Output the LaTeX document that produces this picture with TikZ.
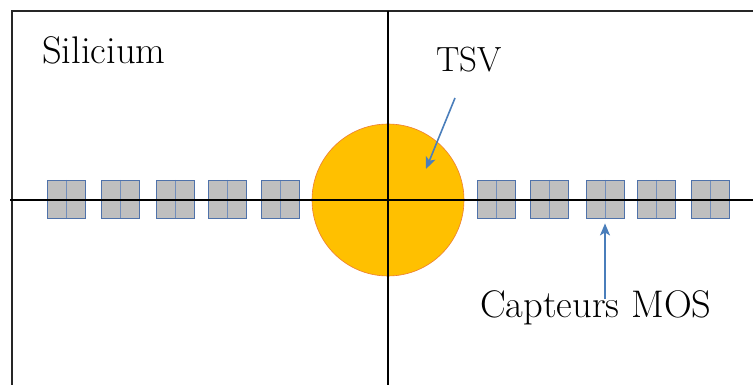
\documentclass[tikz,border=0pt]{standalone}
\usepackage{tikz}
\usetikzlibrary{positioning, arrows.meta}
\definecolor{tsvfill}{HTML}{FFC000}
\definecolor{tsvedge}{HTML}{ED7D31}
\definecolor{mosfill}{HTML}{BFBFBF}
\definecolor{mosedge}{HTML}{4F72AA}
\definecolor{arrowblue}{HTML}{4A7EBB}

\begin{document}
\begin{tikzpicture}[
    x=1pt, y=-1pt,
    frame/.style={line width=1.4pt, black!85},
    axis/.style={line width=1.2pt, black},
    sensor/.style={draw=mosedge, fill=mosfill, line width=0.9pt, minimum width=38pt, minimum height=38pt, inner sep=0pt,
        path picture={\draw[mosedge!80, line width=0.9pt] (path picture bounding box.north) -- (path picture bounding box.south);}},
    via/.style={circle, draw=tsvedge, fill=tsvfill, line width=0.6pt, minimum size=152pt, inner sep=0pt},
    label/.style={font=\fontsize{38.5}{46}\selectfont, inner sep=0pt},
    pointer/.style={draw=arrowblue, line width=1.6pt, -{Stealth[length=12pt, width=10pt, inset=3pt]}},
]
\useasboundingbox (0,0) rectangle (753,385);

% frame of the silicon die
\draw[frame] (12,385) -- (12,11) -- (753,11);

% TSV
\node[via] (tsv) at (388,200) {};

% MOS sensors on both sides of the TSV
\foreach \i/\x in {1/66, 2/120, 3/175, 4/227, 5/280, 6/496, 7/549, 8/605, 9/656, 10/710}
    \node[sensor] (m\i) at (\x,199) {};

% axes through the centre
\draw[axis] (388,11) -- (388,385);
\draw[axis] (10,200) -- (753,200);

% labels
\node[label, anchor=base west] (si) at (42,64) {Silicium};
\node[label, font=\fontsize{35}{42}\selectfont, anchor=base] (tsvlabel) at (469,72) {TSV};
\node[label, anchor=base west] (mos) at (480,317) {Capteurs MOS};

\coordinate (tsvtail) at (455,98);
\coordinate (tsvtip) at (426,169);
\draw[pointer] (tsvtail) -- (tsvtip);
\draw[pointer] (mos.north -| m8.south) ++(0,9) -- ([yshift=-5pt]m8.south);
\end{tikzpicture}
\end{document}
